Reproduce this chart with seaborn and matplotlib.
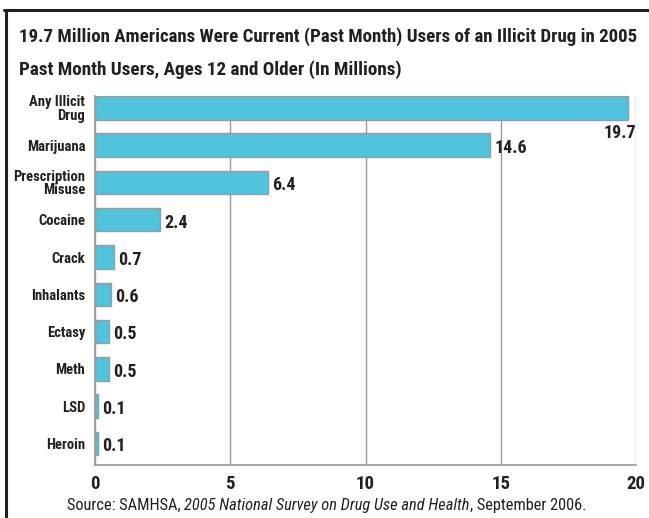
import matplotlib
matplotlib.use('Agg')
import matplotlib.pyplot as plt
import seaborn as sns
from matplotlib.lines import Line2D

# data (millions of past-month users, 2005)
drugs = ['Any Illicit\nDrug', 'Marijuana', 'Prescription\nMisuse', 'Cocaine', 'Crack',
         'Inhalants', 'Ectasy', 'Meth', 'LSD', 'Heroin']
users = [19.7, 14.6, 6.4, 2.4, 0.7, 0.6, 0.5, 0.5, 0.1, 0.1]
x_ticks = [0, 5, 10, 15, 20]

title = '19.7 Million Americans Were Current (Past Month) Users of an Illicit Drug in 2005'
subtitle = 'Past Month Users, Ages 12 and Older (In Millions)'

sns.set_style('white')
plt.rcParams['font.family'] = ['Roboto Condensed', 'Liberation Sans Narrow',
                               'Barlow Condensed', 'DejaVu Sans']
ink = '#231f20'
grey = '#9a9a9a'

fig = plt.figure(figsize=(6.49, 5.18), dpi=100)
ax = fig.add_axes([95 / 649, 1 - 465 / 518, 541 / 649, 369 / 518])

sns.barplot(x=users, y=drugs, orient='h', color='#4fc4dc', saturation=1,
            edgecolor=grey, linewidth=1, width=0.63, ax=ax, zorder=3)

ax.set_xlim(0, 20)
ax.set_ylim(9.58, -0.32)
ax.set_xticks(x_ticks)
ax.set_xticklabels([str(t) for t in x_ticks], fontsize=13.5, fontweight='bold', color=ink)
ax.tick_params(axis='x', length=0, pad=7)
ax.tick_params(axis='y', length=5, width=1, color=grey, pad=2, labelsize=10.5, labelcolor=ink)
for lab in ax.get_yticklabels():
    lab.set_fontweight('bold')
    lab.set_linespacing(0.95)
ax.set_xlabel('')
ax.set_ylabel('')

ax.grid(axis='x', color=grey, linewidth=1, zorder=0)
ax.set_axisbelow(True)
for side in ['top', 'right']:
    ax.spines[side].set_visible(False)
for side in ['left', 'bottom']:
    ax.spines[side].set_color(grey)
    ax.spines[side].set_linewidth(1.2)

# value labels
for i, v in enumerate(users):
    if v > 18:
        ax.text(20, i + 0.68, f'{v}', ha='right', va='center', fontsize=13,
                fontweight='bold', color=ink)
    else:
        ax.annotate(f'{v}', xy=(v, i), xytext=(3, -2), textcoords='offset points',
                    ha='left', va='center', fontsize=13, fontweight='bold', color=ink)

# titles
fig.text(19 / 649, 1 - 42 / 518, title, fontsize=13.6, fontweight='bold', color=ink)
fig.text(19 / 649, 1 - 75 / 518, subtitle, fontsize=13.8, fontweight='bold', color=ink)

# source line with italic title
t1 = fig.text(67 / 649, 1 - 510 / 518, 'Source: SAMHSA, ', fontsize=11.8, color=ink)
t2 = ax.annotate('2005 National Survey on Drug Use and Health', xy=(1, 0), xycoords=t1,
                 fontsize=11.8, style='italic', color=ink, va='bottom', annotation_clip=False)
ax.annotate(', September 2006.', xy=(1, 0), xycoords=t2, fontsize=11.8, color=ink, va='bottom',
            annotation_clip=False)

# frame lines top and left
fig.add_artist(Line2D([4 / 649, 1], [1 - 10 / 518, 1 - 10 / 518], color=ink, linewidth=2.2))
fig.add_artist(Line2D([6 / 649, 6 / 649], [0, 1 - 10 / 518], color=ink, linewidth=2.2))

fig.savefig('out.png', dpi=100)
